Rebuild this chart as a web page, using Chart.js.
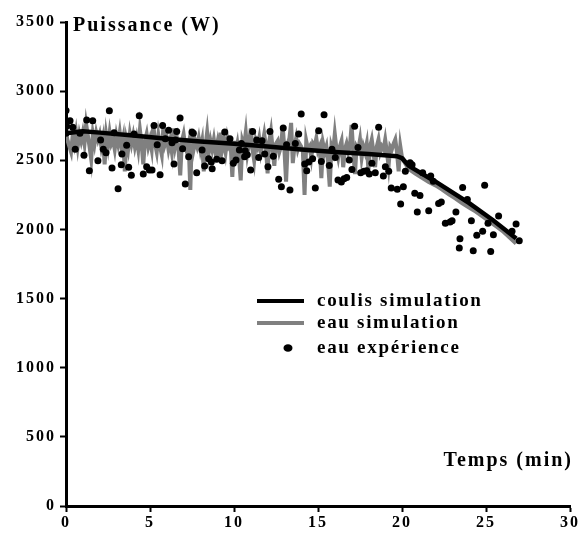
<!DOCTYPE html>
<html>
<head>
<meta charset="utf-8">
<script src="https://cdn.jsdelivr.net/npm/chart.js@4.4.0/dist/chart.umd.min.js"></script>
<style>
  html, body { margin: 0; padding: 0; background: #fff; }
  #wrap { width: 586px; height: 540px; }
</style>
</head>
<body>
<div id="wrap"><canvas id="grafico" width="586" height="540"></canvas></div>
<script>
// axes
const xTicks = [0, 5, 10, 15, 20, 25, 30];
const yTicks = [0, 500, 1000, 1500, 2000, 2500, 3000, 3500];
const legendLabels = ['coulis simulation', 'eau simulation', 'eau expérience'];

// coulis simulation (ligne noire)
const coulisX = [0, 1, 2, 4, 6, 8, 10, 12, 14, 16, 18, 19.7, 20.0, 20.4, 22, 24, 25.4, 26.8];
const coulisY = [2695, 2710, 2700, 2680, 2655, 2635, 2620, 2600, 2578, 2560, 2545, 2530, 2515, 2460, 2345, 2190, 2068, 1935];

// eau simulation (ligne grise) : 0 a 20 min, pas de 0.1 min (une ligne = une minute)
const eauSimPas = 0.1;
const eauSimY = [
  2700, 2640, 2600, 2560, 2680, 2620, 2700, 2600, 2690, 2640,
  2700, 2620, 2760, 2680, 2600, 2510, 2690, 2620, 2700, 2650,
  2690, 2600, 2660, 2470, 2680, 2600, 2700, 2620, 2650, 2580,
  2680, 2620, 2700, 2600, 2660, 2420, 2640, 2580, 2690, 2620,
  2680, 2600, 2660, 2580, 2720, 2620, 2470, 2640, 2690, 2600,
  2650, 2580, 2760, 2620, 2560, 2680, 2600, 2540, 2750, 2620,
  2660, 2580, 2640, 2560, 2730, 2600, 2660, 2580, 2390, 2640,
  2690, 2600, 2560, 2620, 2285, 2710, 2580, 2640, 2600, 2660,
  2580, 2640, 2420, 2600, 2700, 2560, 2640, 2580, 2650, 2560,
  2620, 2500, 2700, 2580, 2640, 2560, 2660, 2600, 2620, 2380,
  2640, 2560, 2620, 2520, 2355, 2640, 2600, 2700, 2550, 2620,
  2730, 2580, 2500, 2640, 2600, 2660, 2560, 2620, 2690, 2600,
  2405, 2640, 2710, 2580, 2460, 2620, 2640, 2560, 2600, 2745,
  2580, 2345, 2620, 2660, 2770, 2480, 2600, 2660, 2580, 2620,
  2600, 2560, 2250, 2640, 2580, 2600, 2520, 2620, 2600, 2660,
  2570, 2600, 2370, 2620, 2560, 2600, 2480, 2310, 2600, 2560,
  2690, 2580, 2520, 2600, 2640, 2450, 2580, 2620, 2560, 2600,
  2755, 2560, 2400, 2600, 2580, 2650, 2520, 2600, 2560, 2620,
  2430, 2600, 2650, 2560, 2450, 2600, 2650, 2560, 2600, 2580,
  2650, 2560, 2460, 2600, 2580, 2620, 2650, 2560, 2420, 2600,
  2520
];
// eau simulation apres 20 min
const eauSimFinX = [20.0, 20.4, 20.8, 21.2, 21.6, 22.0, 22.4, 22.8, 23.2, 23.6, 24.0, 24.4, 24.8, 25.2, 25.6, 26.0, 26.4, 26.8];
const eauSimFinY = [2520, 2440, 2405, 2375, 2345, 2320, 2290, 2255, 2225, 2190, 2160, 2130, 2095, 2060, 2025, 1990, 1945, 1900];

// eau experience (points)
const expX = [
  0, 0.04, 0.24, 0.4, 0, 0.55, 1.23, 1.59, 1.07, 1.39, 0.83, 1.9, 2.06, 2.58, 2.22, 2.38, 2.86, 2.74, 3.1, 3.33,
  3.29, 3.73, 3.61, 3.89, 4.05, 4.36,
  5.24, 5.75, 6.79, 6.11, 6.59, 5.91, 5.43, 6.31, 6.51, 7.5, 7.58, 6.94, 8.1, 7.3, 8.49, 8.65, 8.97, 6.43, 8.25,
  4.8, 4.96, 5.12, 4.6, 5.6, 7.78, 7.1, 8.7,
  9.45, 9.76, 11.11, 12.14, 12.93, 11.35, 11.67, 13.85, 13.65, 10.44, 13.13, 10.32, 10.67, 10.79, 11.83, 11.47,
  12.34, 10.63, 9.29, 10.12, 9.96, 12.02, 10.99, 12.66, 12.82, 13.33,
  14.0, 15.36, 15.04, 17.18, 18.61, 17.38, 15.83, 16.03, 14.21, 14.45, 14.68, 14.33, 15.2, 15.67, 16.86, 17.02,
  18.21, 17.54, 17.74, 17.9, 18.05, 18.41, 16.19, 16.39, 16.55, 16.71, 14.84,
  19.01, 19.21, 18.89, 20.48, 20.6, 20.2, 19.36, 19.72, 20.08, 21.23, 21.71, 21.86, 20.76, 21.07, 19.92, 20.91,
  21.59, 22.18, 22.34, 23.21, 22.58, 22.86, 22.98, 23.41,
  23.61, 24.92, 23.89, 24.13, 25.75, 25.12, 26.79, 24.8, 24.45, 25.44, 26.55, 23.45, 26.98, 24.24, 25.28
];
const expY = [
  2860, 2747, 2786, 2738, 2695, 2579, 2791, 2786, 2536, 2424, 2695, 2497, 2646, 2858, 2579, 2554, 2700, 2444, 2294, 2545,
  2468, 2449, 2608, 2391, 2690, 2822,
  2752, 2752, 2805, 2718, 2709, 2656, 2612, 2627, 2646, 2704, 2695, 2584, 2574, 2526, 2511, 2487, 2507, 2473, 2458,
  2453, 2429, 2429, 2400, 2395, 2410, 2328, 2439,
  2704, 2656, 2709, 2709, 2733, 2646, 2641, 2690, 2622, 2622, 2612, 2574, 2569, 2540, 2545, 2521,
  2530, 2526, 2497, 2502, 2478, 2453, 2429, 2362, 2309, 2285,
  2834, 2829, 2714, 2747, 2738, 2593, 2579, 2521, 2473, 2487, 2511, 2424, 2492, 2463, 2502, 2434,
  2478, 2410, 2420, 2424, 2400, 2410, 2357, 2343, 2366, 2376, 2299,
  2453, 2420, 2386, 2482, 2468, 2420, 2299, 2290, 2309, 2410, 2386, 2348, 2261, 2246, 2183, 2126,
  2135, 2188, 2198, 2126, 2044, 2053, 2063, 1865,
  2304, 2319, 2217, 2063, 2097, 2044, 2039, 1986, 1957, 1962, 1986, 1933, 1918, 1846, 1841
];

// construit les points {x, y}
function pares(xs, ys) {
  return xs.map((x, i) => ({ x: x, y: ys[i] }));
}
const eauSimPoints = eauSimY.map((y, i) => ({ x: +(i * eauSimPas).toFixed(2), y: y }));

const fonte = "'Liberation Serif', 'Times New Roman', serif";
const gris = '#808080';

// espacement des lettres pour les graduations
const espacement = {
  id: 'espacement',
  beforeDraw(chart) {
    chart.ctx.letterSpacing = '2px';
  }
};

// titres des axes et legende dessines dans la zone du graphique
const decor = {
  id: 'decor',
  afterDatasetsDraw(chart) {
    const ctx = chart.ctx;
    const ds = chart.data.datasets;
    ctx.save();
    ctx.fillStyle = '#000';
    ctx.textBaseline = 'middle';
    ctx.font = 'bold 20px ' + fonte;
    ctx.letterSpacing = '2px';
    ctx.textAlign = 'left';
    ctx.fillText('Puissance (W)', 73, 26);
    ctx.textAlign = 'right';
    ctx.fillText('Temps (min)', 573, 461);

    // legende
    ctx.font = 'bold 19px ' + fonte;
    ctx.letterSpacing = '1.7px';
    ctx.textAlign = 'left';
    const lignes = [
      { ds: ds[1], y: 301 },
      { ds: ds[3], y: 323 },
      { ds: ds[0], y: 348 }
    ];
    lignes.forEach(l => {
      if (l.ds.showLine) {
        ctx.strokeStyle = l.ds.borderColor;
        ctx.lineWidth = 4;
        ctx.beginPath();
        ctx.moveTo(257, l.y);
        ctx.lineTo(304, l.y);
        ctx.stroke();
      } else {
        ctx.fillStyle = l.ds.pointBackgroundColor;
        ctx.beginPath();
        ctx.ellipse(288, l.y, 4.5, 3.8, 0, 0, Math.PI * 2);
        ctx.fill();
      }
      ctx.fillStyle = '#000';
      ctx.fillText(l.ds.label, 317, l.y);
    });
    ctx.restore();
  }
};

// Chart.js dessine le premier jeu de donnees au-dessus des autres
const ctx = document.getElementById('grafico').getContext('2d');
new Chart(ctx, {
  type: 'scatter',
  data: {
    datasets: [
      {
        label: legendLabels[2],
        data: pares(expX, expY),
        showLine: false,
        pointRadius: 3.5,
        pointBackgroundColor: '#000',
        pointBorderWidth: 0,
        pointBorderColor: '#000'
      },
      {
        label: legendLabels[0],
        data: pares(coulisX, coulisY),
        showLine: true,
        borderColor: '#000',
        borderWidth: 4.5,
        pointRadius: 0,
        tension: 0
      },
      {
        label: legendLabels[1],
        data: pares(eauSimFinX, eauSimFinY),
        showLine: true,
        borderColor: gris,
        borderWidth: 4.5,
        pointRadius: 0,
        tension: 0
      },
      {
        label: legendLabels[1],
        data: eauSimPoints,
        showLine: true,
        borderColor: gris,
        borderWidth: 4,
        pointRadius: 0,
        tension: 0
      }
    ]
  },
  options: {
    responsive: false,
    animation: false,
    layout: { padding: { left: 0, right: 16, top: 22, bottom: 0 } },
    plugins: {
      legend: { display: false },
      tooltip: { enabled: false }
    },
    scales: {
      x: {
        type: 'linear',
        min: 0,
        max: 30,
        afterBuildTicks: s => { s.ticks = xTicks.map(v => ({ value: v })); },
        afterFit: s => { s.height = 34; },
        grid: { drawOnChartArea: false, drawTicks: true, tickLength: 6, tickWidth: 2, tickColor: '#000' },
        border: { color: '#000', width: 3 },
        ticks: {
          color: '#000', padding: 1, maxRotation: 0,
          font: { family: fonte, size: 16, weight: 'bold' },
          callback: v => String(v)
        }
      },
      y: {
        type: 'linear',
        min: 0,
        max: 3500,
        afterBuildTicks: s => { s.ticks = yTicks.map(v => ({ value: v })); },
        afterFit: s => { s.width = 66; },
        grid: { drawOnChartArea: false, drawTicks: true, tickLength: 6, tickWidth: 2, tickColor: '#000' },
        border: { color: '#000', width: 3 },
        ticks: {
          color: '#000', padding: 4,
          font: { family: fonte, size: 16, weight: 'bold' },
          callback: v => String(v)
        }
      }
    }
  },
  plugins: [espacement, decor]
});
</script>
</body>
</html>
